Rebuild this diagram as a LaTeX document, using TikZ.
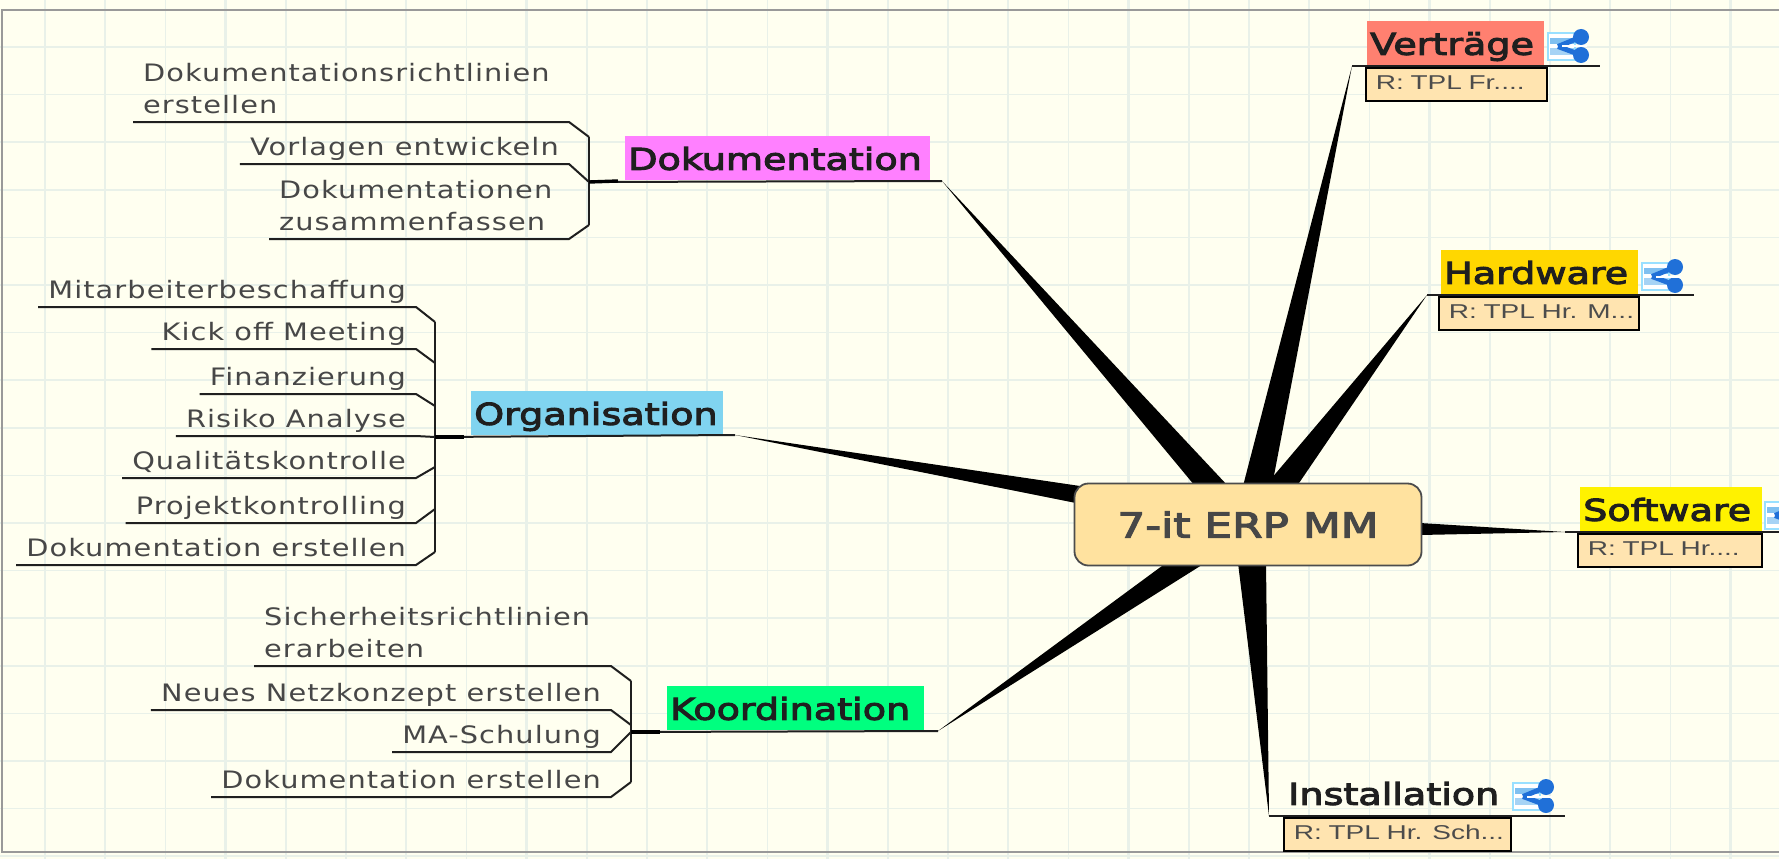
\documentclass[tikz,border=0pt]{standalone}
\usepackage{fontspec}
\newfontfamily\leaffont[FakeStretch=1.2,LetterSpace=4.5]{DejaVu Sans}
\newfontfamily\topicfont[FakeStretch=1.27,FakeBold=3.5]{DejaVu Sans}
\newfontfamily\notefont[FakeStretch=1.4]{Liberation Sans}
\definecolor{paper}{HTML}{FFFFF0}
\definecolor{rule}{HTML}{E9F1E9}
\definecolor{notefill}{HTML}{FFE4B0}
\definecolor{rootfill}{HTML}{FFE29F}
\definecolor{linkblue}{HTML}{2070D8}
\definecolor{linkpale}{HTML}{80C0F0}
\tikzset{
  gridline/.style={rule,line width=1.6pt},
  gridmajor/.style={rule,line width=2.4pt},
  twig/.style={draw=black!88,line width=2pt},
  stub/.style={draw=black,line width=3.4pt},
  taper/.style={fill=black},
  leaf/.style={font=\leaffont\fontsize{24}{32}\selectfont,text=black!72,inner xsep=10pt,inner ysep=0pt,text depth=8pt},
  topic/.style={font=\topicfont\fontsize{30}{32}\selectfont,text=black!88,inner xsep=3pt,inner ysep=0pt,align=left,text height=34pt,text depth=10pt,anchor=south west},
  note/.style={draw=black,line width=1.8pt,fill=notefill,font=\notefont\fontsize{20}{20}\selectfont,text=black!70,inner xsep=10pt,inner ysep=0pt,align=left,text height=22pt,text depth=11pt,anchor=north west},
  pics/linkicon/.style={code={
    \draw[draw=blue!30!cyan!40,fill=white,line width=1.2pt] (0,3) rectangle (27,30);
    \fill[linkpale] (2,8) rectangle (26,14);
    \fill[linkpale!70] (2,18) rectangle (26,25);
    \draw[linkblue,line width=5pt] (10,16.5) -- (33,7) (10,16.5) -- (33,25);
    \fill[linkblue] (33,7) circle (8pt) (33,25) circle (8pt);
    \draw[white,line width=2pt] (14,16.5) -- (39,16.5);
  }}
}
\begin{document}
\begin{tikzpicture}[x=1pt,y=-1pt]
\useasboundingbox (0,0) rectangle (1779,859);
\clip (0,0) rectangle (1779,859);
\fill[paper] (0,0) rectangle (1779,859);
\foreach \gx in {0,...,28} \draw[gridline] ({45+60.2*\gx},0) -- ++(0,859);
\foreach \gy in {0,...,17} \draw[gridline] (0,{47+47.6*\gy}) -- ++(1779,0);
\foreach \gx in {3,8,...,28} \draw[gridmajor] ({45+60.2*\gx},0) -- ++(0,859);
\foreach \gy in {2,7,12,17} \draw[gridmajor] (0,{47+47.6*\gy}) -- ++(1779,0);
\draw[draw=black!40,line width=2pt] (2,10) rectangle (1800,852);

% ends of the branches
\coordinate (dokA) at (942,181);
\coordinate (orgA) at (735,435);
\coordinate (korA) at (938,731);
\coordinate (verA) at (1352,66);
\coordinate (harA) at (1427,295);
\coordinate (sofA) at (1565,532);
\coordinate (insA) at (1269,816);

\fill[taper] (dokA) -- (1195,486) -- (1228,486) -- cycle;
\fill[taper] (orgA) -- (1080,486) -- (1076,503) -- cycle;
\fill[taper] (korA) -- (1166,563) -- (1205,563) -- cycle;
\fill[taper] (verA) -- (1243,486) -- (1272,486) -- cycle;
\fill[taper] (harA) -- (1265,486) -- (1297,486) -- cycle;
\fill[taper] (sofA) -- (1420,523) -- (1420,535) -- cycle;
\fill[taper] (insA) -- (1238,563) -- (1266,563) -- cycle;

\node[draw=black!70,line width=1.8pt,fill=rootfill,rounded corners=14pt,minimum width=347pt,minimum height=82pt,inner sep=0pt,
  font=\topicfont\fontsize{34.5}{40}\selectfont,text=black!72] (root) at (1248,524.5) {7-it ERP MM};

% main topics
\node[topic,fill={rgb,255:red,255;green,128;blue,255},text width=299pt] (dok) at (625,180) {Dokumentation};
\node[topic,fill={rgb,255:red,128;green,212;blue,240},text width=246pt] (org) at (471,435) {Organisation};
\node[topic,fill={rgb,255:red,0;green,255;blue,127},text width=251pt] (kor) at (667,730) {Koordination};
\node[topic,fill={rgb,255:red,255;green,128;blue,112},text width=171pt] (ver) at (1367,65) {Verträge};
\node[topic,fill={rgb,255:red,255;green,215;blue,0},text width=191pt] (har) at (1441,294) {Hardware};
\node[topic,fill=yellow,text width=176pt] (sof) at (1580,531) {Software};
\node[topic,text width=220pt] (ins) at (1285,815) {Installation};

\draw[twig] (verA) -- (1600,66);
\draw[twig] (harA) -- (1694,295);
\draw[twig] (sofA) -- (1779,532);
\draw[twig] (insA) -- (1565,816);

% notes
\node[note,text width=161pt] (verN) at (1365,67) {\mbox{R: TPL Fr....}};
\node[note,text width=180pt] (harN) at (1438,296) {\mbox{R: TPL Hr. M...}};
\node[note,text width=164pt] (sofN) at (1577,533) {\mbox{R: TPL Hr....}};
\node[note,text width=207pt] (insN) at (1283,817) {\mbox{R: TPL Hr. Sch...}};

\pic at (1548,30) {linkicon};
\pic at (1642,260) {linkicon};
\pic at (1765,499) {linkicon};
\pic at (1513,780) {linkicon};

% Dokumentation
\node[leaf,anchor=south west,align=left] (d1) at (133,122) {Dokumentationsrichtlinien\\erstellen};
\node[leaf,anchor=south east] (d2) at (569,164) {Vorlagen entwickeln};
\node[leaf,anchor=south west,align=left] (d3) at (269,239) {Dokumentationen\\zusammenfassen};
\coordinate (dokJ) at (589,182);
\draw[twig] (d1.south west) -- (569,122) -- (589,137) coordinate (dokT);
\draw[twig] (d2.south west) -- (d2.south east) -- (dokJ);
\draw[twig] (d3.south west) -- (569,239) -- (589,225) coordinate (dokB);
\draw[twig] (dokT) -- (dokB);
\draw[twig] (dokJ) -- (dokA);
\draw[stub] (dokJ) -- ++(29,-1);

% Organisation
\node[leaf,anchor=south east] (o1) at (416,307) {Mitarbeiterbeschaffung};
\node[leaf,anchor=south east] (o2) at (416,349) {Kick off Meeting};
\node[leaf,anchor=south east] (o3) at (416,394) {Finanzierung};
\node[leaf,anchor=south east] (o4) at (416,436) {Risiko Analyse};
\node[leaf,anchor=south east] (o5) at (416,478) {Qualitätskontrolle};
\node[leaf,anchor=south east] (o6) at (416,523) {Projektkontrolling};
\node[leaf,anchor=south east] (o7) at (416,565) {Dokumentation erstellen};
\coordinate (orgJ) at (435,437);
\draw[twig] (o1.south west) -- (o1.south east) -- ++(19,15) coordinate (orgT);
\draw[twig] (o2.south west) -- (o2.south east) -- ++(19,14);
\draw[twig] (o3.south west) -- (o3.south east) -- ++(19,12);
\draw[twig] (o4.south west) -- (o4.south east) -- (orgJ);
\draw[twig] (o5.south west) -- (o5.south east) -- ++(19,-11);
\draw[twig] (o6.south west) -- (o6.south east) -- ++(19,-14);
\draw[twig] (o7.south west) -- (o7.south east) -- ++(19,-13) coordinate (orgB);
\draw[twig] (orgT) -- (orgB);
\draw[twig] (orgJ) -- (orgA);
\draw[stub] (orgJ) -- ++(29,0);

% Koordination
\node[leaf,anchor=south west,align=left] (k1) at (254,666) {Sicherheitsrichtlinien\\erarbeiten};
\node[leaf,anchor=south east] (k2) at (611,710) {Neues Netzkonzept erstellen};
\node[leaf,anchor=south east] (k3) at (611,752) {MA-Schulung};
\node[leaf,anchor=south east] (k4) at (611,797) {Dokumentation erstellen};
\coordinate (korJ) at (631,732);
\draw[twig] (k1.south west) -- (611,666) -- (631,681) coordinate (korT);
\draw[twig] (k2.south west) -- (k2.south east) -- ++(20,15);
\draw[twig] (k3.south west) -- (k3.south east) -- (korJ);
\draw[twig] (k4.south west) -- (k4.south east) -- ++(20,-15) coordinate (korB);
\draw[twig] (korT) -- (korB);
\draw[twig] (korJ) -- (korA);
\draw[stub] (korJ) -- ++(29,0);
\end{tikzpicture}
\end{document}
